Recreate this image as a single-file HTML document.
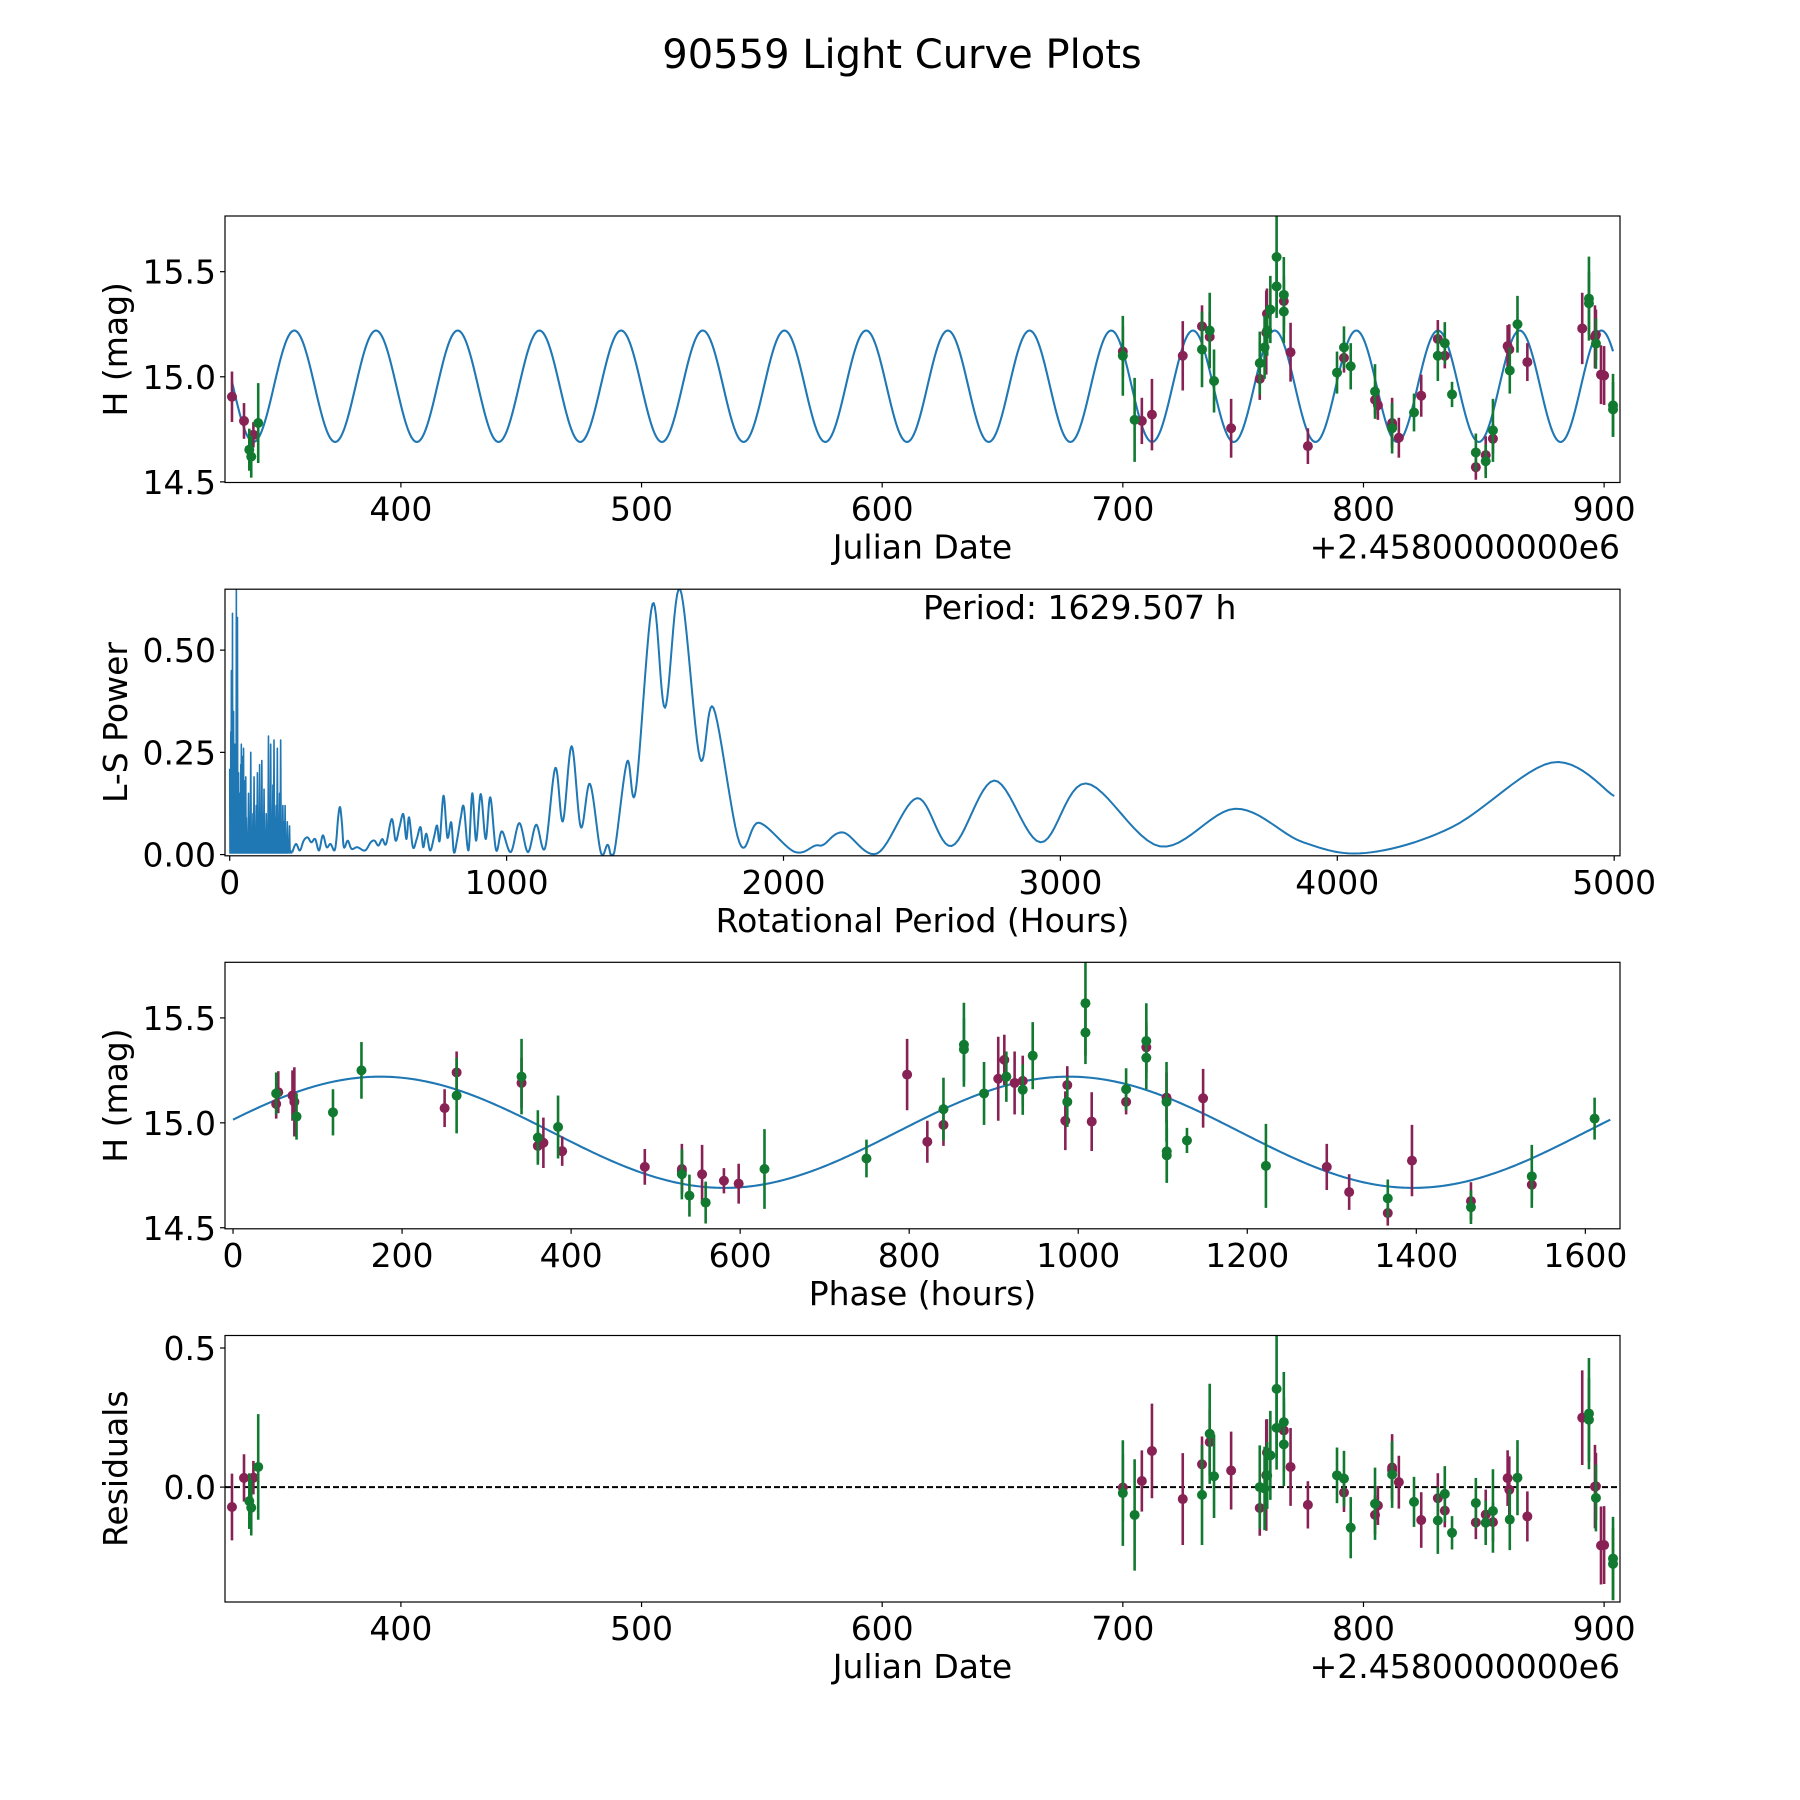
<!DOCTYPE html>
<html><head><meta charset="utf-8"><title>90559 Light Curve Plots</title>
<style>
html,body{margin:0;padding:0;background:#fff;}
svg{display:block;font-family:"DejaVu Sans","Liberation Sans",sans-serif;}
</style></head>
<body>
<svg id="fig" width="1800" height="1800" viewBox="0 0 1800 1800" xmlns="http://www.w3.org/2000/svg">
<rect width="1800" height="1800" fill="#fff"/>
<text x="902" y="68" font-size="40" text-anchor="middle">90559 Light Curve Plots</text>
</svg>
<script>
// ---- observation data ----
const jdValues = [329.8,334.8,338.7,337.0,337.8,340.7,700.0,700.0,704.9,707.9,712.1,724.9,732.9,732.9,736.1,736.1,737.9,745.0,756.9,756.9,758.9,759.6,759.9,761.3,760.0,763.9,763.9,766.9,766.9,766.9,769.7,776.9,789.0,791.9,791.9,794.7,804.8,804.8,806.0,811.9,811.9,811.9,814.7,821.0,824.0,830.9,830.9,833.8,833.8,836.8,846.7,846.7,850.8,850.8,853.8,853.8,859.9,860.6,860.8,864.0,868.1,890.9,893.7,893.7,896.2,896.6,896.6,898.7,900.0,903.7,903.7];
const magValues = [14.905,14.79,14.724,14.653,14.62,14.78,15.12,15.10,14.795,14.79,14.82,15.10,15.24,15.13,15.22,15.19,14.98,14.755,14.99,15.065,15.14,15.21,15.30,15.32,15.22,15.57,15.43,15.39,15.36,15.31,15.117,14.67,15.02,15.14,15.09,15.05,14.93,14.89,14.865,14.78,14.755,14.77,14.71,14.83,14.91,15.18,15.10,15.16,15.10,14.916,14.64,14.57,14.627,14.598,14.705,14.745,15.146,15.13,15.03,15.25,15.07,15.23,15.372,15.35,15.19,15.20,15.158,15.01,15.006,14.864,14.845];
const errValues = [0.12,0.085,0.06,0.10,0.10,0.19,0.12,0.19,0.20,0.11,0.17,0.165,0.10,0.18,0.18,0.12,0.15,0.14,0.10,0.15,0.15,0.20,0.12,0.16,0.12,0.25,0.15,0.18,0.12,0.15,0.14,0.085,0.10,0.10,0.07,0.11,0.13,0.07,0.07,0.12,0.12,0.10,0.095,0.09,0.10,0.09,0.12,0.10,0.06,0.06,0.09,0.06,0.09,0.08,0.07,0.15,0.10,0.12,0.11,0.135,0.09,0.17,0.20,0.15,0.15,0.12,0.12,0.14,0.14,0.15,0.13];
const bandValues = ['p','p','p','g','g','g','p','g','g','p','p','p','p','g','g','p','g','p','p','g','g','p','p','g','g','g','g','g','p','g','p','p','g','g','p','g','g','p','p','p','g','p','p','g','p','p','g','g','p','g','g','p','p','g','p','g','p','p','g','g','p','p','g','g','p','p','g','p','p','g','g'];
// ---- model ----
const modelMean = 14.955, modelAmp = 0.265, modelPeriodDays = 33.948, modelPeakJD = 355.7;
const rotPeriodHours = 1629.507, phaseEpochJD = 314.5;
// ---- periodogram (period hours, power) ----
const spikePeriods = [0,2,4,6,8,10,12,14,16,18,20,22,24,26,28,30,32,34,36,38,40,42,44,46,48,50,52,54,56,58,60,64,68,72,76,80,84,88,92,96,100,104,108,112,116,120,124,128,132,136,140,144,148,152,156,160,164,168,172,176,180,184,188,192,196,200,204,208,212,216,220];
const spikePowers = [0.21,0.12,0.30,0.45,0.10,0.59,0.22,0.35,0.05,0.27,0.11,0.25,0.65,0.40,0.58,0.08,0.20,0.06,0.15,0.08,0.22,0.27,0.05,0.24,0.10,0.26,0.12,0.18,0.03,0.19,0.09,0.04,0.15,0.08,0.25,0.05,0.10,0.19,0.04,0.12,0.20,0.06,0.22,0.08,0.23,0.10,0.16,0.04,0.10,0.05,0.29,0.10,0.27,0.05,0.17,0.28,0.09,0.12,0.26,0.06,0.15,0.28,0.05,0.12,0.08,0.12,0.03,0.08,0.02,0.07,0.01];
const lsPeriods = [225.6,239.4,253.3,267.1,281,294.8,308.6,322.5,336.3,350.2,364,377.8,384.8,391.7,398.6,405.5,412.4,426.3,440.1,460.9,488.6,509.3,523.2,537,550.9,564.7,585.4,599.3,613.1,627,638,647.7,661.6,675.4,689.2,698.9,710,723.8,737.7,748.7,758.4,772.3,786.1,800,809.6,820.7,834.6,845.6,862.2,876.1,889.9,906.5,924.5,941.1,962,983,1015,1046,1077,1107,1139,1176,1203,1235,1268,1301,1340,1365,1388,1435,1466,1527,1572,1626,1698,1747,1841,1911,2039,2115,2144,2216,2339,2483,2607,2761,2929,3092,3360,3632,3877,4103,4414,4774,5000];
const lsPowers = [0.005,0.026,0.010,0.034,0.042,0.030,0.038,0.010,0.047,0.018,0.026,0.010,0.034,0.091,0.116,0.075,0.018,0.034,0.014,0.018,0.010,0.030,0.034,0.022,0.038,0.026,0.087,0.034,0.067,0.099,0.038,0.091,0.018,0.038,0.067,0.018,0.051,0.010,0.042,0.071,0.034,0.144,0.042,0.079,0.006,0.034,0.091,0.116,0.010,0.150,0.034,0.148,0.038,0.140,0.011,0.057,0.006,0.077,0.006,0.073,0.016,0.212,0.081,0.265,0.067,0.173,0.006,0.024,0.003,0.227,0.155,0.613,0.359,0.650,0.236,0.359,0.029,0.078,0.007,0.022,0.024,0.054,0.003,0.138,0.021,0.181,0.030,0.174,0.020,0.112,0.030,0.004,0.067,0.225,0.143];
// ---- ticks ----
const jdTicks = [400,500,600,700,800,900];
const magTicks = [14.5,15.0,15.5];
const lsXTicks = [0,1000,2000,3000,4000,5000];
const lsYTicks = [0,0.25,0.5];
const phaseTicks = [0,200,400,600,800,1000,1200,1400,1600];
const resTicks = [0.0,0.5];

const NS='http://www.w3.org/2000/svg';
const svg=document.getElementById('fig');
const GREEN='#117a30', PURPLE='#882255', BLUE='#1f77b4';
const FS=33;
function mk(tag,attrs,parent){const e=document.createElementNS(NS,tag);for(const k in attrs)e.setAttribute(k,attrs[k]);(parent||svg).appendChild(e);return e;}
function model(t){return modelMean+modelAmp*Math.cos(2*Math.PI*(t-modelPeakJD)/modelPeriodDays);}
const L=225,R=1620;
function makeAxes(name,top,bottom,xmin,xmax,ymin,ymax){
  const g=mk('g',{});
  
  
  const sx=v=>L+(v-xmin)/(xmax-xmin)*(R-L);
  const sy=v=>bottom-(v-ymin)/(ymax-ymin)*(bottom-top);
  const clipId='clip-'+name;
  const cp=mk('clipPath',{id:clipId},g);
  mk('rect',{x:L,y:top,width:R-L,height:bottom-top},cp);
  const plot=mk('g',{'clip-path':'url(#'+clipId+')'},g);
  return {g,plot,sx,sy,top,bottom};
}
function frame(ax,xt,xfmt,yt,yfmt){
  const f=mk('rect',{x:L,y:ax.top,width:R-L,height:ax.bottom-ax.top,fill:'none',stroke:'#000','stroke-width':1.2},ax.g);
  
  
  xt.forEach(v=>{const x=ax.sx(v);
    mk('line',{x1:x,x2:x,y1:ax.bottom,y2:ax.bottom+5,stroke:'#000','stroke-width':1.2},ax.g);
    const t=mk('text',{x:x,y:ax.bottom+38,'font-size':FS,'text-anchor':'middle'},ax.g);
    
    
    t.textContent=xfmt(v);});
  yt.forEach(v=>{const y=ax.sy(v);
    mk('line',{x1:L-5,x2:L,y1:y,y2:y,stroke:'#000','stroke-width':1.2},ax.g);
    const t=mk('text',{x:L-9,y:y+12,'font-size':FS,'text-anchor':'end'},ax.g);
    
    
    t.textContent=yfmt(v);});
}
function label(ax,xl,yl,yname,xname){
  const t=mk('text',{x:(L+R)/2,y:ax.bottom+76,'font-size':FS,'text-anchor':'middle'},ax.g);
  
  
  t.textContent=xl;
  const cy=(ax.top+ax.bottom)/2;
  const y=mk('text',{x:127,y:cy,'font-size':FS,'text-anchor':'middle',transform:'rotate(-90 127 '+cy+')'},ax.g);
  
  
  y.textContent=yl;
}
function offsetText(ax){
  const t=mk('text',{x:R,y:ax.bottom+76,'font-size':FS,'text-anchor':'end'},ax.g);
  
  
  t.textContent='+2.4580000000e6';
}
function errPoints(ax,xs,ys,name){
  ['p','g'].forEach(b=>{
    for(let i=0;i<xs.length;i++){ if(bandValues[i]!==b) continue;
      const c=b==='g'?GREEN:PURPLE;
      const x=ax.sx(xs[i]);
      const ln=mk('line',{x1:x,x2:x,y1:ax.sy(ys[i]-errValues[i]),y2:ax.sy(ys[i]+errValues[i]),stroke:c,'stroke-width':2.6},ax.plot);
      
      
      const d=mk('circle',{cx:x,cy:ax.sy(ys[i]),r:5,fill:c},ax.plot);
      
      
    }
  });
}
function line(ax,pts,name,extra){
  const p=mk('polyline',Object.assign({points:pts.map(q=>ax.sx(q[0]).toFixed(2)+','+ax.sy(q[1]).toFixed(2)).join(' '),fill:'none',stroke:BLUE,'stroke-width':2.1,'stroke-linejoin':'round'},extra||{}),ax.plot);
  
  
  return p;
}
const jdMin=Math.min(...jdValues), jdMax=Math.max(...jdValues);
// Panel 1
const a1=makeAxes('light-curve-axes',216,482.5,326.9,906.6,14.497,15.765);
const mpts=[];for(let i=0;i<=1500;i++){const t=jdMin+(jdMax-jdMin)*i/1500;mpts.push([t,model(t)]);}
line(a1,mpts,'model-curve');
errPoints(a1,jdValues,magValues,'observation');
frame(a1,jdTicks,v=>String(v),magTicks,v=>v.toFixed(1));
label(a1,'Julian Date','H (mag)','y-axis-title','x-axis-title');offsetText(a1);
// Panel 2
const a2=makeAxes('periodogram-axes',589.2,855.8,-17,5021,-0.003,0.649);
const spk=[];
for(let i=0;i<spikePeriods.length;i++){spk.push([spikePeriods[i],spikePowers[i]]);
  const nxt=i+1<spikePeriods.length?spikePeriods[i+1]:lsPeriods[0];spk.push([(spikePeriods[i]+nxt)/2,0.004]);}
spk.push([lsPeriods[0],lsPowers[0]]);
line(a2,spk,'periodogram-spikes',{'stroke-width':1.6});
function catmull(xs,ys,n){const out=[];for(let i=0;i<xs.length-1;i++){const i0=Math.max(0,i-1),i3=Math.min(xs.length-1,i+2);
  for(let k=0;k<n;k++){const t=k/n;const f=(a,b,c,d)=>0.5*((2*b)+(-a+c)*t+(2*a-5*b+4*c-d)*t*t+(-a+3*b-3*c+d)*t*t*t);
    out.push([f(xs[i0],xs[i],xs[i+1],xs[i3]),Math.max(0,f(ys[i0],ys[i],ys[i+1],ys[i3]))]);}}
  out.push([xs[xs.length-1],ys[ys.length-1]]);return out;}
line(a2,catmull(lsPeriods,lsPowers,12),'periodogram-curve',{'stroke-width':2});
frame(a2,lsXTicks,v=>String(v),lsYTicks,v=>v.toFixed(2));
label(a2,'Rotational Period (Hours)','L-S Power','y-axis-title','x-axis-title');
const pt=mk('text',{x:923,y:619,'font-size':FS},a2.g);


pt.textContent='Period: '+rotPeriodHours.toFixed(3)+' h';
// Panel 3
const a3=makeAxes('phase-curve-axes',962.3,1228.8,-9.5,1641,14.495,15.765);
const phases=jdValues.map(t=>{let p=((t-phaseEpochJD)*24)%rotPeriodHours;if(p<0)p+=rotPeriodHours;return p;});
const ppts=[];for(let i=0;i<=600;i++){const p=rotPeriodHours*i/600;ppts.push([p,model(phaseEpochJD+p/24)]);}
line(a3,ppts,'phase-model-curve');
errPoints(a3,phases,magValues,'phased-observation');
frame(a3,phaseTicks,v=>String(v),magTicks,v=>v.toFixed(1));
label(a3,'Phase (hours)','H (mag)','y-axis-title','x-axis-title');
// Panel 4
const a4=makeAxes('residuals-axes',1335.5,1602,326.9,906.6,-0.413,0.545);
const zl=mk('line',{x1:L,x2:R,y1:a4.sy(0),y2:a4.sy(0),stroke:'#000','stroke-width':2,'stroke-dasharray':'6,3'},a4.plot);


const resid=magValues.map((m,i)=>m-model(jdValues[i]));
errPoints(a4,jdValues,resid,'residual');
frame(a4,jdTicks,v=>String(v),resTicks,v=>v.toFixed(1));
label(a4,'Julian Date','Residuals','y-axis-title','x-axis-title');offsetText(a4);
</script>
</body></html>
